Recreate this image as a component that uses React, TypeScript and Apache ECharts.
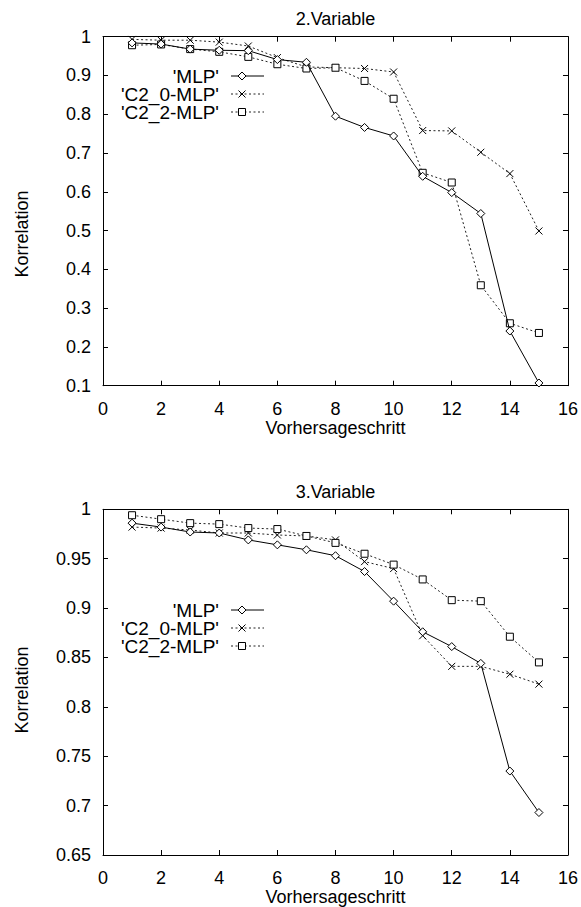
import React, { useEffect, useRef } from 'react';
import * as echarts from 'echarts';

const steps = [1, 2, 3, 4, 5, 6, 7, 8, 9, 10, 11, 12, 13, 14, 15];
const seriesNames = ["'MLP'", "'C2_0-MLP'", "'C2_2-MLP'"];
const chartTitles = ['2.Variable', '3.Variable'];
const xTitle = 'Vorhersageschritt';
const yTitle = 'Korrelation';

// 2.Variable
const mlpVar2 = [0.984, 0.981, 0.968, 0.965, 0.964, 0.941, 0.934, 0.795, 0.766, 0.744, 0.640, 0.598, 0.544, 0.241, 0.107];
const c20Var2 = [0.993, 0.991, 0.991, 0.986, 0.976, 0.946, 0.922, 0.920, 0.918, 0.909, 0.758, 0.757, 0.702, 0.647, 0.499];
const c22Var2 = [0.978, 0.980, 0.968, 0.961, 0.948, 0.929, 0.918, 0.920, 0.886, 0.840, 0.649, 0.624, 0.359, 0.261, 0.236];

// 3.Variable
const mlpVar3 = [0.986, 0.982, 0.977, 0.976, 0.969, 0.964, 0.959, 0.953, 0.937, 0.907, 0.876, 0.861, 0.844, 0.735, 0.693];
const c20Var3 = [0.982, 0.981, 0.979, 0.976, 0.976, 0.974, 0.973, 0.969, 0.947, 0.940, 0.872, 0.841, 0.841, 0.833, 0.823];
const c22Var3 = [0.994, 0.990, 0.986, 0.985, 0.981, 0.980, 0.973, 0.966, 0.955, 0.944, 0.929, 0.908, 0.907, 0.871, 0.845];

const yMin = [0.1, 0.65];
const yInterval = [0.1, 0.05];

const FONT = '"Liberation Sans", Arial, Helvetica, sans-serif';
const FS = 18;
const LEG_FS = 19;
const CROSS = 'path://M0,0L10,10M10,0L0,10';

function pairs(vals: number[]) {
  return steps.map((s, i) => [s, vals[i]]);
}

export default function App() {
  const ref = useRef<HTMLDivElement>(null);
  useEffect(() => {
    document.body.style.margin = '0';
    const chart = echarts.init(ref.current!, null, { renderer: 'svg' });

    const grids = [
      { left: 103, top: 36.7, width: 465, height: 349 },
      { left: 103, top: 509.3, width: 465, height: 350 },
    ];

    const xAxes: any[] = [];
    const yAxes: any[] = [];
    grids.forEach((_, gi) => {
      const common = {
        type: 'value',
        gridIndex: gi,
        axisLine: { show: true, onZero: false, lineStyle: { color: '#000', width: 1 } },
        axisTick: { show: true, inside: true, length: 5, lineStyle: { color: '#000', width: 1 } },
        splitLine: { show: false },
      };
      xAxes.push({
        ...common,
        position: 'bottom',
        min: 0,
        max: 16,
        interval: 2,
        name: xTitle,
        nameLocation: 'middle',
        nameGap: 33,
        nameTextStyle: { color: '#000', fontSize: FS, fontFamily: FONT },
        axisLabel: { color: '#000', fontSize: FS, fontFamily: FONT, margin: 14 },
      });
      xAxes.push({
        ...common,
        position: 'top',
        min: 0,
        max: 16,
        interval: 2,
        axisLabel: { show: false },
      });
      yAxes.push({
        ...common,
        position: 'left',
        min: yMin[gi],
        max: 1,
        interval: yInterval[gi],
        axisLabel: { color: '#000', fontSize: FS, fontFamily: FONT, margin: 12 },
      });
      yAxes.push({
        ...common,
        position: 'right',
        min: yMin[gi],
        max: 1,
        interval: yInterval[gi],
        axisLabel: { show: false },
      });
    });

    const data = [
      [mlpVar2, c20Var2, c22Var2],
      [mlpVar3, c20Var3, c22Var3],
    ];

    const series: any[] = [];
    data.forEach((set, gi) => {
      series.push({
        type: 'line',
        name: seriesNames[0],
        xAxisIndex: gi * 2,
        yAxisIndex: gi * 2,
        data: pairs(set[0]),
        symbol: 'diamond',
        symbolSize: 8,
        lineStyle: { color: '#000', width: 1, type: 'solid' },
        itemStyle: { color: '#fff', borderColor: '#000', borderWidth: 1 },
        z: 3,
      });
      series.push({
        type: 'line',
        name: seriesNames[1],
        xAxisIndex: gi * 2,
        yAxisIndex: gi * 2,
        data: pairs(set[1]),
        symbol: CROSS,
        symbolSize: 7,
        lineStyle: { color: '#222', width: 1, type: [2, 2.5] },
        itemStyle: { color: 'none', borderColor: '#000', borderWidth: 1 },
        z: 2,
      });
      series.push({
        type: 'line',
        name: seriesNames[2],
        xAxisIndex: gi * 2,
        yAxisIndex: gi * 2,
        data: pairs(set[2]),
        symbol: 'rect',
        symbolSize: 7,
        lineStyle: { color: '#222', width: 1, type: [2, 2.5] },
        itemStyle: { color: '#fff', borderColor: '#000', borderWidth: 1 },
        z: 2,
      });
    });

    const graphic: any[] = [];
    const titleY = [18.6, 492];
    const yNameY = [234, 690];
    const legendRows = [
      [76, 94, 112],
      [610, 628, 646],
    ];
    const txtX = 219;
    const lx1 = 231;
    const lx2 = 264;
    const mx = 242;
    [0, 1].forEach((gi) => {
      graphic.push({
        type: 'text',
        x: 335.5,
        y: titleY[gi],
        style: { text: chartTitles[gi], fill: '#000', font: `${FS}px ${FONT}`, align: 'center', verticalAlign: 'middle' },
      });
      graphic.push({
        type: 'text',
        x: 22,
        y: yNameY[gi],
        rotation: Math.PI / 2,
        style: { text: yTitle, fill: '#000', font: `${FS}px ${FONT}`, align: 'center', verticalAlign: 'middle' },
      });
      legendRows[gi].forEach((ry, si) => {
        graphic.push({
          type: 'text',
          x: txtX,
          y: ry,
          style: {
            text: seriesNames[si],
            fill: '#000',
            font: `${LEG_FS}px ${FONT}`,
            lineHeight: 17,
            align: 'right',
            verticalAlign: 'middle',
          },
        });
        graphic.push({
          type: 'line',
          shape: { x1: lx1, y1: ry, x2: lx2, y2: ry },
          style: si === 0 ? { stroke: '#000', lineWidth: 1 } : { stroke: '#222', lineWidth: 1, lineDash: [2, 2.5] },
        });
        if (si === 0) {
          graphic.push({
            type: 'polygon',
            shape: { points: [[mx, ry - 4], [mx + 4, ry], [mx, ry + 4], [mx - 4, ry]] },
            style: { fill: '#fff', stroke: '#000', lineWidth: 1 },
          });
        } else if (si === 1) {
          graphic.push({ type: 'line', shape: { x1: mx - 3.5, y1: ry - 3.5, x2: mx + 3.5, y2: ry + 3.5 }, style: { stroke: '#000', lineWidth: 1 } });
          graphic.push({ type: 'line', shape: { x1: mx + 3.5, y1: ry - 3.5, x2: mx - 3.5, y2: ry + 3.5 }, style: { stroke: '#000', lineWidth: 1 } });
        } else {
          graphic.push({
            type: 'rect',
            shape: { x: mx - 3.5, y: ry - 3.5, width: 7, height: 7 },
            style: { fill: '#fff', stroke: '#000', lineWidth: 1 },
          });
        }
      });
    });

    chart.setOption({
      animation: false,
      backgroundColor: '#fff',
      textStyle: { fontFamily: FONT },
      grid: grids,
      xAxis: xAxes,
      yAxis: yAxes,
      series,
      graphic,
    });
    return () => chart.dispose();
  }, []);
  return <div ref={ref} style={{ width: 581, height: 907 }} />;
}
